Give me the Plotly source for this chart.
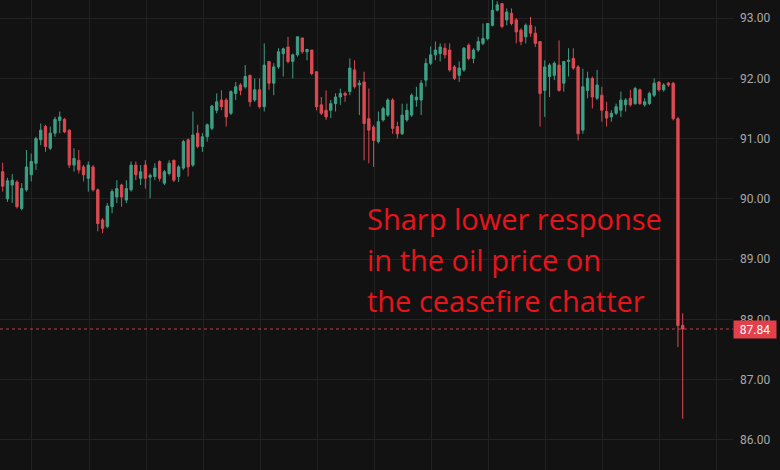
import plotly.graph_objects as go

# Hourly candles (index), prices in USD
opens = [90.45, 90.00, 90.23, 90.28, 89.84, 90.15, 90.40, 90.59, 90.98, 91.20,
         90.84, 91.09, 91.30, 91.32, 91.14, 90.56, 90.64, 90.53, 90.34, 90.53,
         90.15, 89.65, 89.54, 89.87, 90.03, 90.23, 89.98, 90.15, 90.56, 90.34,
         90.56, 90.36, 90.37, 90.62, 90.26, 90.42, 90.64, 90.37, 90.51, 90.98,
         90.56, 91.09, 90.87, 91.03, 91.17, 91.47, 91.64, 91.64, 91.42, 91.75,
         91.89, 91.86, 92.05, 91.64, 91.81, 91.53, 92.28, 91.92, 92.19, 92.41,
         92.52, 92.28, 92.39, 92.67, 92.44, 92.47, 92.11, 91.56, 91.47, 91.47,
         91.58, 91.69, 91.75, 91.78, 92.14, 91.89, 91.94, 91.33, 91.19, 90.95,
         91.31, 91.39, 91.64, 91.20, 91.08, 91.31, 91.39, 91.64, 91.64, 91.97,
         92.25, 92.39, 92.41, 92.50, 92.47, 92.19, 92.05, 92.14, 92.55, 92.33,
         92.47, 92.58, 92.66, 92.88, 93.13, 93.24, 92.97, 93.08, 92.97, 92.80,
         92.69, 92.88, 92.75, 92.61, 91.80, 92.03, 92.05, 92.22, 91.92, 92.28,
         92.33, 92.19, 91.14, 91.80, 92.00, 91.67, 91.72, 91.45, 91.36, 91.42,
         91.47, 91.56, 91.67, 91.58, 91.81, 91.56, 91.58, 91.72, 91.94, 91.81,
         91.92, 91.92, 91.33, 87.90]
highs = [90.60, 90.35, 90.41, 90.31, 90.26, 90.81, 90.75, 91.03, 91.25, 91.23,
         91.20, 91.36, 91.45, 91.34, 91.15, 90.84, 90.81, 90.56, 90.62, 90.56,
         90.17, 89.68, 89.93, 90.16, 90.31, 90.25, 90.31, 90.62, 90.62, 90.56,
         90.64, 90.42, 90.59, 90.64, 90.48, 90.64, 90.65, 90.56, 90.98, 91.00,
         91.45, 91.23, 91.09, 91.25, 91.56, 91.75, 91.80, 91.67, 91.80, 91.94,
         91.92, 92.22, 92.06, 92.00, 92.00, 92.58, 92.28, 92.25, 92.50, 92.51,
         92.69, 92.41, 92.69, 92.67, 92.49, 92.47, 92.11, 91.69, 91.80, 91.64,
         91.75, 91.83, 91.78, 92.33, 92.30, 91.97, 92.11, 91.83, 91.22, 91.45,
         91.53, 91.67, 91.67, 91.28, 91.58, 91.58, 91.75, 91.86, 91.97, 92.33,
         92.53, 92.61, 92.58, 92.58, 92.58, 92.22, 92.28, 92.52, 92.58, 92.50,
         92.69, 92.91, 92.91, 93.30, 93.28, 93.25, 93.16, 93.16, 93.00, 92.83,
         92.91, 93.02, 92.86, 92.61, 92.30, 92.25, 92.28, 92.63, 92.28, 92.50,
         92.50, 92.22, 92.16, 92.11, 92.03, 92.14, 91.86, 91.61, 91.47, 91.58,
         91.78, 91.67, 91.81, 91.86, 91.83, 91.67, 91.78, 92.00, 91.95, 91.92,
         91.94, 91.94, 91.36, 88.10]
lows = [90.12, 89.95, 89.93, 89.84, 89.81, 90.12, 90.29, 90.48, 90.89, 90.78,
        90.81, 91.03, 91.09, 91.09, 90.51, 90.45, 90.42, 90.29, 90.12, 90.12,
        89.46, 89.43, 89.51, 89.76, 89.93, 89.87, 89.93, 90.12, 90.31, 90.23,
        90.17, 90.01, 90.31, 90.29, 90.23, 90.39, 90.28, 90.28, 90.48, 90.37,
        90.53, 90.84, 90.78, 90.95, 91.14, 91.42, 91.47, 91.20, 91.39, 91.64,
        91.72, 91.83, 91.53, 91.61, 91.50, 91.45, 91.81, 91.72, 92.16, 92.03,
        92.25, 92.00, 92.36, 92.41, 92.30, 92.05, 91.47, 91.39, 91.31, 91.34,
        91.45, 91.56, 91.61, 91.72, 91.83, 91.39, 90.64, 90.59, 90.53, 90.92,
        91.28, 91.36, 91.08, 91.00, 91.06, 91.28, 91.36, 91.53, 91.39, 91.86,
        92.22, 92.30, 92.28, 92.33, 92.11, 91.97, 91.94, 92.11, 92.30, 92.25,
        92.44, 92.55, 92.63, 92.86, 93.11, 92.83, 92.88, 92.88, 92.58, 92.55,
        92.58, 92.69, 92.52, 91.20, 91.36, 91.69, 91.97, 91.78, 91.78, 92.03,
        92.14, 90.97, 91.08, 91.67, 91.50, 91.64, 91.28, 91.20, 91.28, 91.39,
        91.36, 91.45, 91.53, 91.56, 91.56, 91.53, 91.56, 91.69, 91.78, 91.78,
        91.86, 91.30, 87.54, 86.35]
closes = [90.21, 90.30, 90.31, 89.87, 90.17, 90.53, 90.62, 91.00, 91.14, 90.87,
          91.09, 91.32, 91.36, 91.11, 90.56, 90.67, 90.48, 90.40, 90.56, 90.15,
          89.59, 89.51, 89.88, 90.12, 90.17, 90.03, 90.17, 90.56, 90.40, 90.45,
          90.34, 90.39, 90.51, 90.34, 90.45, 90.59, 90.31, 90.53, 90.95, 90.53,
          91.06, 90.87, 91.03, 91.23, 91.54, 91.61, 91.53, 91.36, 91.78, 91.86,
          91.80, 92.03, 91.61, 91.81, 91.53, 92.22, 91.92, 92.19, 92.44, 92.49,
          92.28, 92.39, 92.69, 92.44, 92.48, 92.08, 91.53, 91.42, 91.36, 91.58,
          91.69, 91.75, 91.72, 92.17, 91.86, 91.92, 91.25, 91.14, 90.97, 91.28,
          91.50, 91.64, 91.17, 91.08, 91.39, 91.47, 91.72, 91.69, 91.92, 92.25,
          92.39, 92.47, 92.52, 92.39, 92.14, 92.00, 92.17, 92.50, 92.33, 92.47,
          92.61, 92.66, 92.91, 93.13, 93.22, 92.86, 93.10, 92.91, 92.77, 92.61,
          92.88, 92.75, 92.58, 91.75, 92.19, 92.22, 92.25, 91.80, 92.28, 92.30,
          92.17, 91.08, 91.86, 92.00, 91.69, 91.89, 91.47, 91.34, 91.42, 91.53,
          91.64, 91.64, 91.56, 91.83, 91.58, 91.61, 91.75, 91.92, 91.81, 91.89,
          91.89, 91.33, 87.90, 87.84]
last_price = 87.84
price_ticks = [86, 87, 88, 89, 90, 91, 92, 93]
price_tick_labels = ["86.00", "87.00", "88.00", "89.00", "90.00", "91.00", "92.00", "93.00"]
note_lines = ["Sharp lower response", "in the oil price on", "the ceasefire chatter"]

idx = list(range(len(opens)))

UP = "#3f9f85"
DOWN = "#dc4a52"
BG = "#121212"
GRID = "#222222"

fig = go.Figure(go.Candlestick(
    x=idx, open=opens, high=highs, low=lows, close=closes,
    increasing=dict(line=dict(color=UP, width=1), fillcolor=UP),
    decreasing=dict(line=dict(color=DOWN, width=1), fillcolor=DOWN),
    whiskerwidth=0, showlegend=False, hoverinfo="skip",
))

xgrid = [6.16 + 12 * k for k in range(13)]

fig.update_layout(
    width=780, height=470,
    margin=dict(l=0, r=47, t=0, b=0),
    paper_bgcolor=BG, plot_bgcolor=BG,
    xaxis=dict(range=[-0.568, 153.58], showgrid=True, gridcolor=GRID, gridwidth=1,
               tickvals=xgrid, showticklabels=False, ticks="", zeroline=False,
               rangeslider=dict(visible=False), fixedrange=True),
    yaxis=dict(side="right", range=[85.5, 93.3], tickvals=price_ticks,
               ticktext=price_tick_labels, showgrid=True, gridcolor=GRID, gridwidth=1,
               tickfont=dict(family="Roboto, sans-serif", size=12, color="#a8a8a8"),
               ticks="", ticklabelstandoff=6, zeroline=False, fixedrange=True),
    font=dict(family="Roboto, sans-serif"),
    hovermode=False,
)

fig.add_shape(type="line", xref="paper", x0=0, x1=1, yref="y", y0=last_price, y1=last_price,
              line=dict(color=DOWN, width=1, dash="dot"), opacity=0.85)

fig.add_annotation(xref="paper", x=1, xanchor="left", yref="y", y=last_price, yanchor="middle",
                   text=f"{last_price:.2f}", showarrow=False, bgcolor="#e2404b",
                   font=dict(family="Roboto, sans-serif", size=12, color="#ffffff"),
                   width=40, height=15, borderpad=1)

for line, ypx in zip(note_lines, [218, 259, 300]):
    fig.add_annotation(xref="paper", x=365 / 733, xanchor="left",
                       yref="paper", y=1 - ypx / 470, yanchor="middle",
                       text=line, showarrow=False,
                       font=dict(family="Open Sans, sans-serif", size=29, color="#e8141c"))

fig.write_html("out.html", config={"displayModeBar": False},
               post_script="document.body.style.margin='0';document.body.style.background='#121212';")
